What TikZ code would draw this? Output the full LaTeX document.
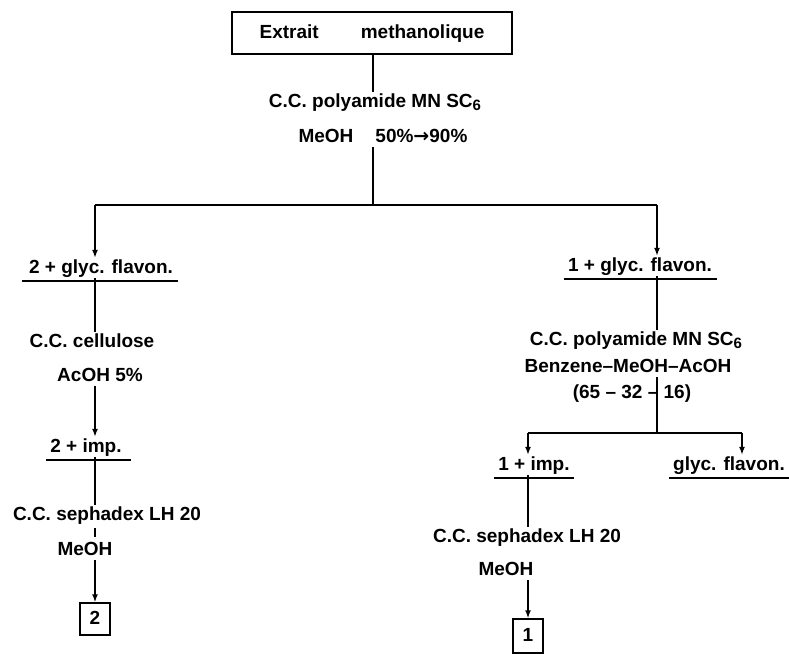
\documentclass[tikz,border=0pt]{standalone}
\usepackage{fontspec}
\setmainfont{Liberation Sans}
\newfontfamily\arrowfont{DejaVu Sans}
\usetikzlibrary{arrows.meta, positioning, calc}

\newcommand{\sixsub}{\raisebox{-0.3ex}{\fontsize{15}{15}\selectfont 6}}

\tikzset{
    lbl/.style={font=\fontsize{19}{21}\selectfont\bfseries, inner sep=1pt,
                text height=14pt, text depth=4pt},
    result/.style={lbl, draw, line width=1.5pt, minimum width=30pt,
                   minimum height=32pt, inner sep=2pt},
    link/.style={line width=1.5pt},
    flow/.style={link, -{Latex[length=8pt, width=6pt]}},
    under/.style={line width=1.7pt}
}

\begin{document}
\begin{tikzpicture}[x=1pt, y=-1pt]
    \useasboundingbox (0,0) rectangle (789,653);

    % start
    \node[lbl, draw, line width=1.5pt, minimum width=280pt, minimum height=42pt]
        (extrait) at (372,33) {Extrait\hspace{42pt}methanolique};
    \node[lbl] (poly1) at (375,102) {C.C.\ polyamide MN SC\sixsub};
    \node[lbl] (meoh1) at (383,137) {MeOH\hspace{22pt}50\%{\arrowfont →}90\%};

    \coordinate (split1) at (373,205);
    \coordinate (lcol) at (95,205);
    \coordinate (rcol) at (657,205);

    \draw[link] (extrait.south -| split1) -- (poly1.north -| split1);
    \draw[link] (meoh1.south -| split1) -- (split1);
    \draw[link] (lcol) -- (rcol);

    % left branch
    \node[lbl] (glyc2) at (101,268) {2 + glyc. flavon.};
    \node[lbl] (cell) at (92,342) {C.C. cellulose};
    \node[lbl] (acoh) at (100,376) {AcOH 5\%};
    \node[lbl] (imp2) at (86,447) {2 + imp.};
    \node[lbl] (seph2) at (107,515) {C.C. sephadex LH 20};
    \node[lbl] (meoh2) at (85,550) {MeOH};
    \node[result] (res2) at (95,619) {2};

    \draw[under] ([xshift=-6pt, yshift=-3pt]glyc2.south west) -- ([xshift=4pt, yshift=-3pt]glyc2.south east);
    \draw[under] ([xshift=-3pt, yshift=-3pt]imp2.south west) -- ([xshift=8pt, yshift=-3pt]imp2.south east);

    \draw[flow] (lcol) -- (glyc2.north -| lcol);
    \draw[link] (glyc2.south -| lcol) -- (cell.north -| lcol);
    \draw[flow] (acoh.south -| lcol) -- (imp2.north -| lcol);
    \draw[link] (imp2.south -| lcol) -- (seph2.north -| lcol);
    \draw[link, shorten >=3pt, shorten <=3pt] (seph2.south -| lcol) -- (meoh2.north -| lcol);
    \draw[flow] (meoh2.south -| lcol) -- (res2.north);

    % right branch
    \node[lbl] (glyc1) at (640,266) {1 + glyc. flavon.};
    \node[lbl] (poly2) at (636,340) {C.C. polyamide MN SC\sixsub};
    \node[lbl] (benz) at (628,367) {Benzene--MeOH--AcOH};
    \node[lbl] (ratio) at (632,393) {(65 -- 32 -- 16)};

    \coordinate (split2) at (657,433);
    \coordinate (sub1) at (528,433);
    \coordinate (sub2) at (742,433);

    \draw[under] ([xshift=-3pt, yshift=-3pt]glyc1.south west) -- ([xshift=4pt, yshift=-3pt]glyc1.south east);
    \draw[flow] (rcol) -- (glyc1.north -| rcol);
    \draw[link] (glyc1.south -| rcol) -- (poly2.north -| rcol);
    \draw[link] (benz.south -| split2) -- (split2);
    \draw[link] (sub1) -- (sub2);

    \node[lbl] (imp1) at (534,465) {1 + imp.};
    \node[lbl] (glycf) at (729,465) {glyc. flavon.};
    \node[lbl] (seph1) at (527,537) {C.C. sephadex LH 20};
    \node[lbl] (meoh3) at (506,570) {MeOH};
    \node[result, minimum height=34pt] (res1) at (528,636) {1};

    \draw[under] ([xshift=-3pt, yshift=-3pt]imp1.south west) -- ([xshift=3pt, yshift=-3pt]imp1.south east);
    \draw[under] ([xshift=-3pt, yshift=-3pt]glycf.south west) -- ([xshift=3pt, yshift=-3pt]glycf.south east);

    \draw[flow] (sub1) -- (imp1.north -| sub1);
    \draw[flow] (sub2) -- (glycf.north -| sub2);
    \draw[link] (imp1.south -| sub1) -- (seph1.north -| sub1);
    \draw[flow] (meoh3.south -| sub1) -- (res1.north);
\end{tikzpicture}
\end{document}
